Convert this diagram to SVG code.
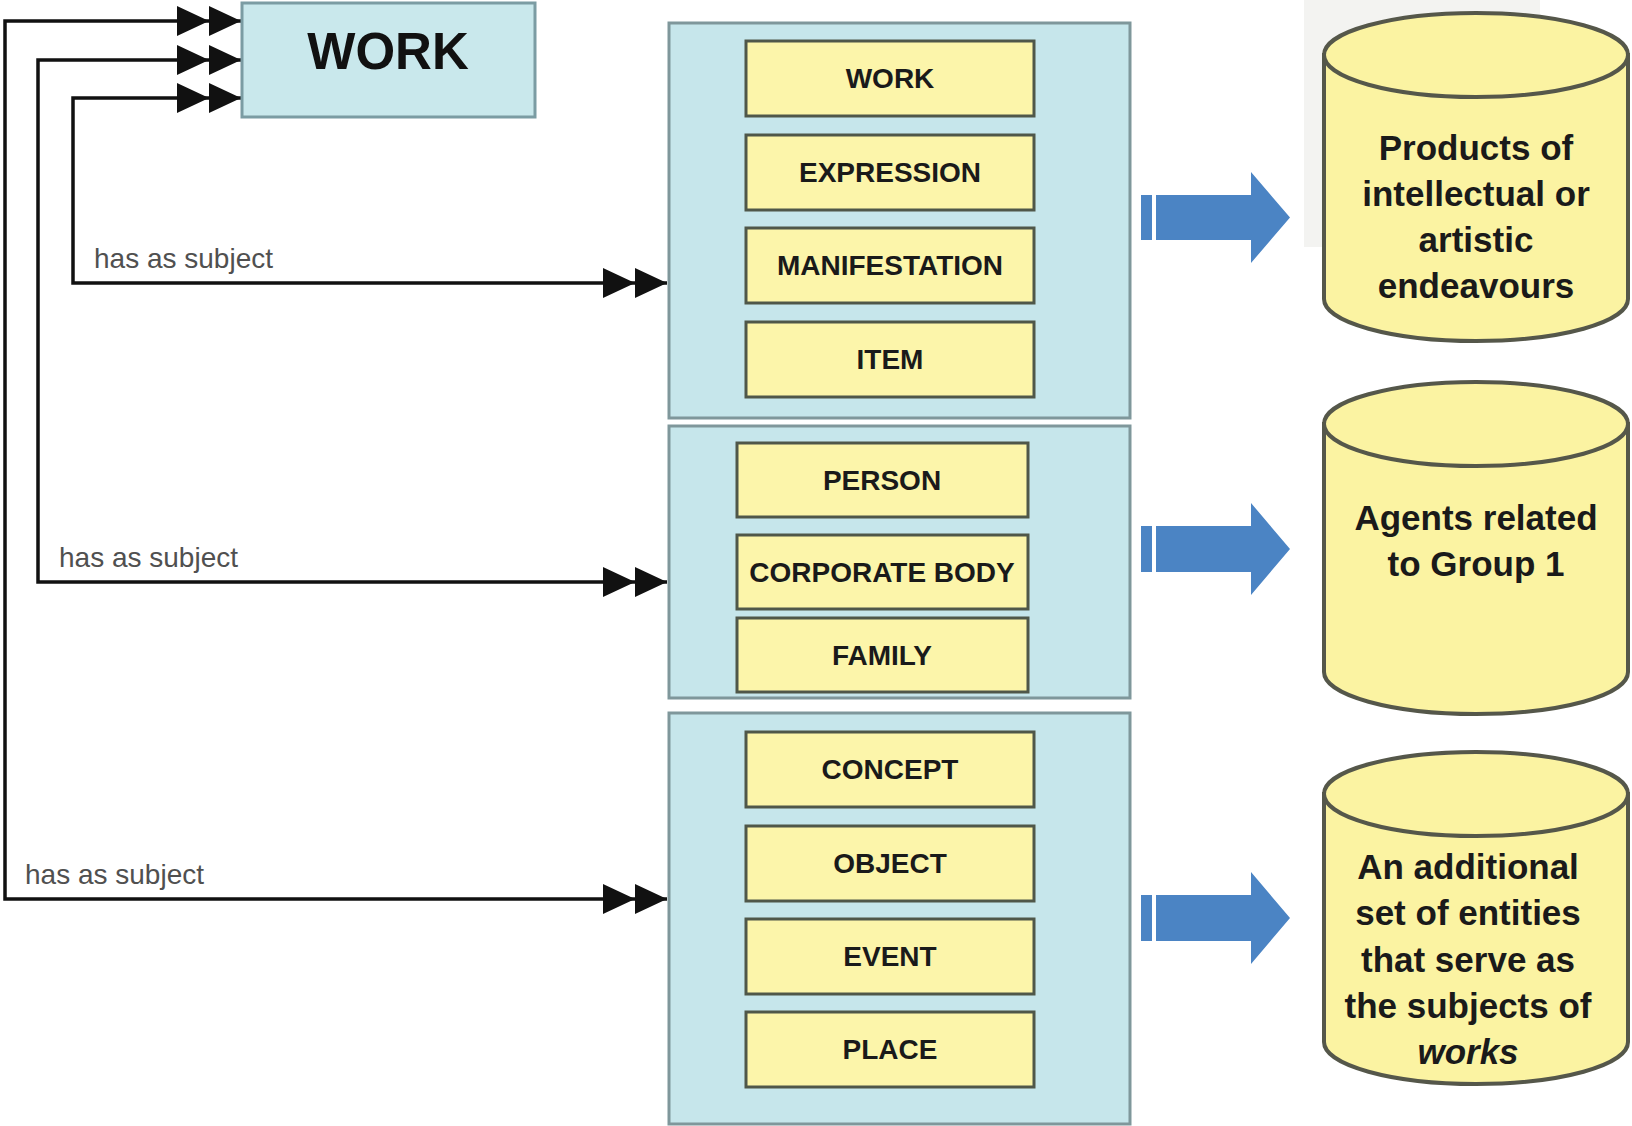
<svg xmlns="http://www.w3.org/2000/svg" width="1632" height="1126" viewBox="0 0 1632 1126">
<style>
.grp{fill:#c6e6eb;stroke:#7f979b;stroke-width:3}
.ent{fill:#fcf5aa;stroke:#4f5749;stroke-width:3}
.lbl{font-family:"Liberation Sans",Arial,sans-serif;font-weight:bold;font-size:28px;fill:#1a1a1a;text-anchor:middle}
.cyl{fill:#fbf3a2;stroke:#55574a;stroke-width:4}
.ctext{font-family:"Liberation Sans",Arial,sans-serif;font-weight:bold;font-size:35px;fill:#1a1a1a;text-anchor:middle}
.rel{font-family:"Liberation Sans",Arial,sans-serif;font-size:28px;fill:#505050}
.conn{fill:none;stroke:#111;stroke-width:3.5;marker-start:url(#dbl);marker-end:url(#dbl)}
.barrow{fill:#4b84c4}
</style>
<defs>
<marker id="dbl" markerUnits="userSpaceOnUse" markerWidth="64" markerHeight="32" refX="64" refY="16" orient="auto-start-reverse" viewBox="0 0 64 32">
<path d="M0,1 L32,16 L0,31 Z M32,1 L64,16 L32,31 Z" fill="#111"/>
</marker>
</defs>
<rect width="1632" height="1126" fill="#ffffff"/>
<rect x="1304" y="0" width="236" height="247" fill="#f3f3f1"/>

<g id="connectors">
<path class="conn" d="M667,899 H5 V21 H241"/>
<path class="conn" d="M667,582 H38 V60 H241"/>
<path class="conn" d="M667,283 H73 V98 H241"/>
<text class="rel" x="94" y="268">has as subject</text>
<text class="rel" x="59" y="567">has as subject</text>
<text class="rel" x="25" y="884">has as subject</text>
</g>

<g id="work-main">
<rect x="242" y="3" width="293" height="114" fill="#c9e8ec" stroke="#7b9ca3" stroke-width="3"/>
<text x="388" y="69" font-family="Liberation Sans,Arial,sans-serif" font-weight="bold" font-size="51" fill="#111" text-anchor="middle">WORK</text>
</g>

<g id="group1">
<rect class="grp" x="669" y="23" width="461" height="395"/>
<g id="g1-work"><rect class="ent" x="746" y="41" width="288" height="75"/><text class="lbl" x="890" y="88">WORK</text></g>
<g id="g1-expression"><rect class="ent" x="746" y="135" width="288" height="75"/><text class="lbl" x="890" y="182">EXPRESSION</text></g>
<g id="g1-manifestation"><rect class="ent" x="746" y="228" width="288" height="75"/><text class="lbl" x="890" y="275">MANIFESTATION</text></g>
<g id="g1-item"><rect class="ent" x="746" y="322" width="288" height="75"/><text class="lbl" x="890" y="369">ITEM</text></g>
</g>

<g id="group2">
<rect class="grp" x="669" y="426" width="461" height="272"/>
<g id="g2-person"><rect class="ent" x="737" y="443" width="291" height="74"/><text class="lbl" x="882" y="490">PERSON</text></g>
<g id="g2-corporate"><rect class="ent" x="737" y="535" width="291" height="74"/><text class="lbl" x="882" y="582">CORPORATE BODY</text></g>
<g id="g2-family"><rect class="ent" x="737" y="618" width="291" height="74"/><text class="lbl" x="882" y="665">FAMILY</text></g>
</g>

<g id="group3">
<rect class="grp" x="669" y="713" width="461" height="411"/>
<g id="g3-concept"><rect class="ent" x="746" y="732" width="288" height="75"/><text class="lbl" x="890" y="779">CONCEPT</text></g>
<g id="g3-object"><rect class="ent" x="746" y="826" width="288" height="75"/><text class="lbl" x="890" y="873">OBJECT</text></g>
<g id="g3-event"><rect class="ent" x="746" y="919" width="288" height="75"/><text class="lbl" x="890" y="966">EVENT</text></g>
<g id="g3-place"><rect class="ent" x="746" y="1012" width="288" height="75"/><text class="lbl" x="890" y="1059">PLACE</text></g>
</g>

<g id="arrow1">
<rect class="barrow" x="1141" y="195" width="11" height="45"/>
<path class="barrow" d="M1156,195 H1251 V172 L1290,217.5 L1251,263 V240 H1156 Z"/>
</g>
<g id="arrow2">
<rect class="barrow" x="1141" y="526" width="11" height="46"/>
<path class="barrow" d="M1156,526 H1251 V503 L1290,549 L1251,595 V572 H1156 Z"/>
</g>
<g id="arrow3">
<rect class="barrow" x="1141" y="895" width="11" height="46"/>
<path class="barrow" d="M1156,895 H1251 V872 L1290,918 L1251,964 V941 H1156 Z"/>
</g>

<g id="cyl1">
<path class="cyl" d="M1324,55 V299 A152,42 0 0 0 1628,299 V55 Z"/>
<ellipse class="cyl" cx="1476" cy="55" rx="152" ry="42"/>
<text class="ctext" x="1476" y="160">Products of</text>
<text class="ctext" x="1476" y="206">intellectual or</text>
<text class="ctext" x="1476" y="252">artistic</text>
<text class="ctext" x="1476" y="298">endeavours</text>
</g>
<g id="cyl2">
<path class="cyl" d="M1324,424 V672 A152,42 0 0 0 1628,672 V424 Z"/>
<ellipse class="cyl" cx="1476" cy="424" rx="152" ry="42"/>
<text class="ctext" x="1476" y="530">Agents related</text>
<text class="ctext" x="1476" y="576">to Group 1</text>
</g>
<g id="cyl3">
<path class="cyl" d="M1324,794 V1042 A152,42 0 0 0 1628,1042 V794 Z"/>
<ellipse class="cyl" cx="1476" cy="794" rx="152" ry="42"/>
<text class="ctext" x="1468" y="879">An additional</text>
<text class="ctext" x="1468" y="925">set of entities</text>
<text class="ctext" x="1468" y="972">that serve as</text>
<text class="ctext" x="1468" y="1018">the subjects of</text>
<text class="ctext" x="1468" y="1064" font-style="italic">works</text>
</g>
</svg>
